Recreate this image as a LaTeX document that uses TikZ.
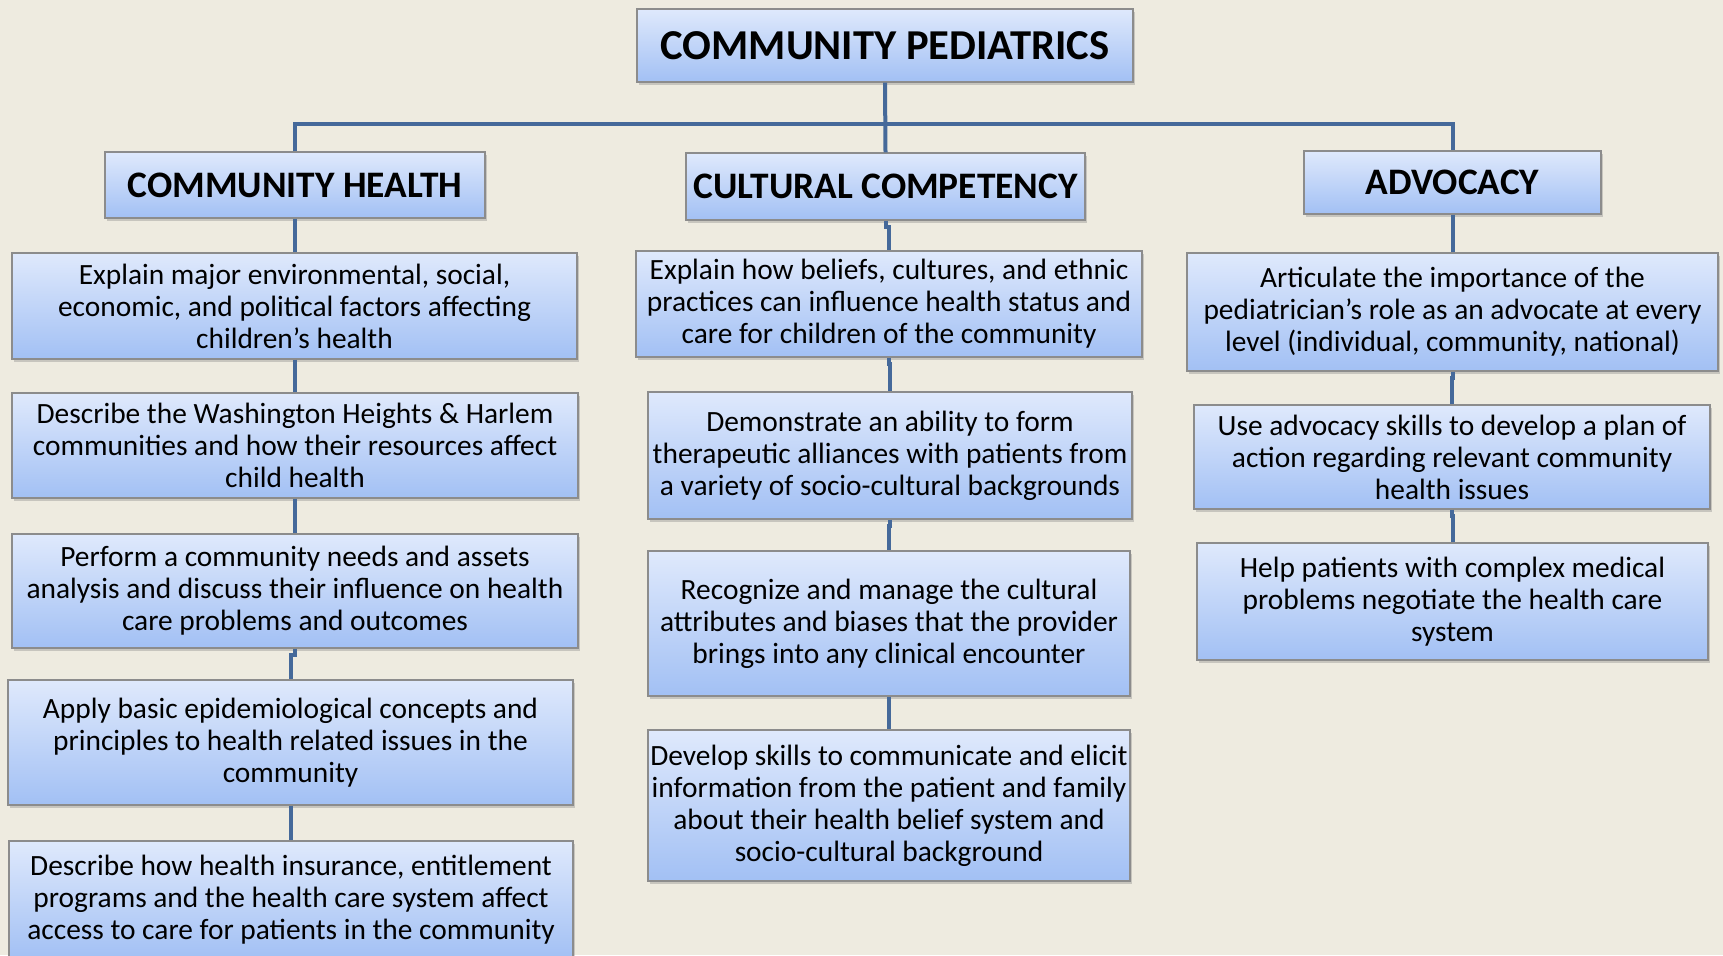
\documentclass[tikz,border=0pt]{standalone}
\usepackage{fontspec}
\setmainfont{Carlito}
\usepackage{tikz}
\usetikzlibrary{shadows}

\definecolor{bgbeige}{HTML}{EEEBE0}
\definecolor{boxtop}{HTML}{DFE9FC}
\definecolor{boxbottom}{HTML}{A2C0F4}
\definecolor{linkblue}{HTML}{45699A}

\tikzset{
  goalbox/.style={draw=black!45, line width=0.6pt, top color=boxtop, bottom color=boxbottom,
    align=center, inner sep=0pt, font=\fontsize{14.7}{16}\selectfont,
    drop shadow={shadow xshift=1.2pt, shadow yshift=-1.5pt, opacity=0.35}},
  headbox/.style={goalbox, font=\fontsize{18.7}{21}\selectfont\bfseries},
  topbox/.style={goalbox, font=\fontsize{21.3}{24}\selectfont\bfseries},
  link/.style={draw=linkblue, line width=2pt}
}

\begin{document}
\begin{tikzpicture}[x=0.5pt, y=-0.5pt]
    % Background and page size
    \fill[bgbeige] (0,0) rectangle (1723,955);
    \useasboundingbox (0,0) rectangle (1723,955);

    % Title and the three headings
    \node[topbox, minimum width=248pt, minimum height=36.5pt] (top) at (885,45.5) {COMMUNITY PEDIATRICS};
    \node[headbox, minimum width=190pt, minimum height=33pt] (ch) at (295,185) {COMMUNITY HEALTH};
    \node[headbox, minimum width=199.5pt, minimum height=33.5pt] (cc) at (885.5,186.5) {CULTURAL COMPETENCY};
    \node[headbox, minimum width=148.5pt, minimum height=31.5pt] (adv) at (1452.5,182.5) {ADVOCACY};

    % Goals under each heading
    \foreach \n/\x/\y/\w/\h/\txt in {
      ch1/294.5/306/565/106/{Explain major environmental, social,\\economic, and political factors affecting\\children’s health},
      ch2/295/445.5/566/105/{Describe the Washington Heights \& Harlem\\communities and how their resources affect\\child health},
      ch3/295/591/566/114/{Perform a community needs and assets\\analysis and discuss their influence on health\\care problems and outcomes},
      ch4/290.5/742.5/565/125/{Apply basic epidemiological concepts and\\principles to health related issues in the\\community},
      ch5/291/900/564/118/{Describe how health insurance, entitlement\\programs and the health care system affect\\access to care for patients in the community},
      cc1/889/304/506/106/{Explain how beliefs, cultures, and ethnic\\practices can influence health status and\\care for children of the community},
      cc2/890/455.5/484/127/{Demonstrate an ability to form\\therapeutic alliances with patients from\\a variety of socio-cultural backgrounds},
      cc3/889/623.5/482/145/{Recognize and manage the cultural\\attributes and biases that the provider\\brings into any clinical encounter},
      cc4/889/805.5/482/151/{Develop skills to communicate and elicit\\information from the patient and family\\about their health belief system and\\socio-cultural background},
      adv1/1452.5/312/531/118/{Articulate the importance of the\\pediatrician’s role as an advocate at every\\level (individual, community, national)},
      adv2/1452/457/516/104/{Use advocacy skills to develop a plan of\\action regarding relevant community\\health issues},
      adv3/1452.5/601.5/511/117/{Help patients with complex medical\\problems negotiate the health care\\system}} {
      \node[goalbox, minimum width={\w*0.5pt}, minimum height={\h*0.5pt}] (\n) at (\x,\y) {\txt};
    }

    % Connectors from the title to the headings
    \coordinate (bus) at (885,124);
    \draw[link] (top.south) -- (cc.north);
    \draw[link] (ch.north) -- (ch.north |- bus) -- (adv.north |- bus) -- (adv.north);

    % Connectors down each column
    \foreach \a/\b in {ch/ch1, ch1/ch2, ch2/ch3, ch3/ch4, ch4/ch5,
                       cc/cc1, cc1/cc2, cc2/cc3, cc3/cc4,
                       adv/adv1, adv1/adv2, adv2/adv3} {
      \draw[link] (\a.south) -- ++(0,6) -| (\b.north);
    }
\end{tikzpicture}
\end{document}
